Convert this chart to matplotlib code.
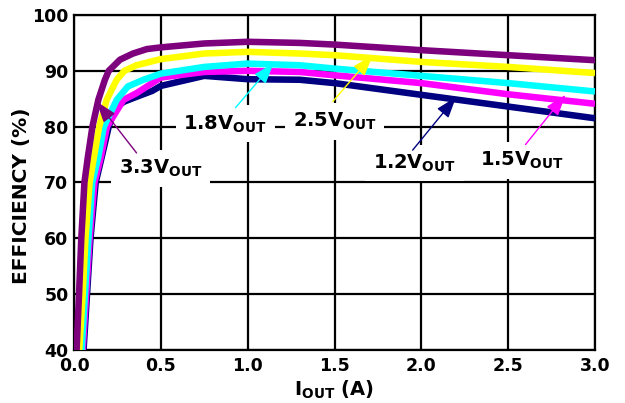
import matplotlib
matplotlib.use('Agg')
import matplotlib.pyplot as plt

plt.rcParams['font.family'] = 'DejaVu Sans'
plt.rcParams['font.weight'] = 'bold'
plt.rcParams['mathtext.fontset'] = 'custom'
plt.rcParams['mathtext.rm'] = 'DejaVu Sans:bold'
plt.rcParams['mathtext.default'] = 'rm'

# efficiency curves (I in A, efficiency in %)
i_33 = [0.015, 0.029, 0.042, 0.06, 0.08, 0.106, 0.14, 0.178, 0.20, 0.265, 0.34, 0.42, 0.5, 0.75, 1.0, 1.3, 1.5, 2.0, 2.5, 3.0]
e_33 = [40, 50, 60, 70, 74.6, 80, 84.8, 88.4, 90, 92, 93.1, 93.9, 94.2, 94.9, 95.2, 95.0, 94.7, 93.7, 92.8, 91.9]

i_25 = [0.03, 0.05, 0.066, 0.09, 0.115, 0.145, 0.188, 0.246, 0.29, 0.36, 0.5, 0.75, 1.0, 1.3, 1.5, 2.0, 2.5, 3.0]
e_25 = [40, 50, 60, 70, 74.6, 80, 84.8, 88.4, 90, 91.0, 92.1, 93.1, 93.4, 93.1, 92.8, 91.6, 90.7, 89.6]

i_18 = [0.044, 0.063, 0.083, 0.105, 0.14, 0.172, 0.246, 0.31, 0.40, 0.5, 0.75, 1.0, 1.3, 1.5, 2.0, 2.5, 3.0]
e_18 = [40, 50, 60, 70, 74.6, 80, 84.8, 87.2, 88.4, 89.5, 90.7, 91.3, 91.0, 90.4, 89.1, 87.8, 86.3]

i_15 = [0.05, 0.07, 0.09, 0.118, 0.155, 0.19, 0.285, 0.36, 0.5, 0.75, 1.0, 1.3, 1.5, 2.0, 2.5, 3.0]
e_15 = [40, 50, 60, 70, 74.6, 80, 84.8, 86.0, 88.8, 89.8, 90.0, 89.8, 89.2, 87.8, 85.8, 84.1]

i_12 = [0.055, 0.075, 0.095, 0.125, 0.16, 0.20, 0.226, 0.246, 0.29, 0.39, 0.45, 0.5, 0.75, 1.0, 1.3, 1.5, 2.0, 2.5, 3.0]
e_12 = [40, 50, 60, 70, 74.6, 80, 82.4, 83.6, 84.5, 85.7, 86.4, 87.3, 89.1, 88.5, 88.4, 87.8, 85.7, 83.6, 81.5]

xticks = [0.0, 0.5, 1.0, 1.5, 2.0, 2.5, 3.0]
yticks = [40, 50, 60, 70, 80, 90, 100]

fig = plt.figure(figsize=(6.25, 4.03), dpi=100)
ax = fig.add_axes([0.1184, 0.1315, 0.8336, 0.8313])

series = [
    (i_12, e_12, '#000080'),
    (i_15, e_15, '#ff00ff'),
    (i_18, e_18, '#00ffff'),
    (i_25, e_25, '#ffff00'),
    (i_33, e_33, '#7d007d'),
]
for x, y, c in series:
    ax.plot(x, y, color=c, lw=4.7, solid_capstyle='butt', solid_joinstyle='round', zorder=3)

ax.set_xlim(0, 3)
ax.set_ylim(40, 100)
ax.set_xticks(xticks)
ax.set_yticks(yticks)
ax.set_xticklabels(['%.1f' % t for t in xticks])
ax.grid(True, color='black', lw=1.6, zorder=1)
ax.set_axisbelow(True)
ax.tick_params(length=0, labelsize=12.5)
ax.tick_params(axis='x', pad=5)
ax.tick_params(axis='y', pad=4)
for s in ax.spines.values():
    s.set_linewidth(1.6)

ax.set_xlabel(r'I$_{OUT}$ (A)', fontsize=14, fontweight='bold', labelpad=3)
ax.set_ylabel('EFFICIENCY (%)', fontsize=14.5, fontweight='bold')
ax.yaxis.set_label_coords(-0.082, 0.46)

# labels with arrows (text position, arrow tip, arrow tail, colour)
labels = [
    (r'3.3V$_{OUT}$', (0.5, 72.5), (0.13, 84.5), (0.36, 75.3), '#7d007d'),
    (r'1.8V$_{OUT}$', (0.87, 80.5), (1.15, 91.4), (0.93, 83.4), '#00ffff'),
    (r'2.5V$_{OUT}$', (1.5, 80.9), (1.72, 92.8), (1.49, 84.5), '#ffff00'),
    (r'1.2V$_{OUT}$', (1.96, 73.5), (2.20, 85.3), (1.95, 75.8), '#000080'),
    (r'1.5V$_{OUT}$', (2.58, 73.9), (2.83, 85.7), (2.6, 76.8), '#ff00ff'),
]
for txt, pos, tip, tail, c in labels:
    ax.text(pos[0], pos[1], txt, fontsize=14, fontweight='bold', ha='center', va='center',
            bbox=dict(boxstyle='square,pad=0.4', fc='white', ec='none'), zorder=2)
    ax.annotate('', xy=tip, xytext=tail,
                arrowprops=dict(arrowstyle='-|>,head_length=1.3,head_width=0.45',
                                color=c, lw=1.0, shrinkA=0, shrinkB=0), zorder=4)

fig.savefig('out.png', dpi=100)
